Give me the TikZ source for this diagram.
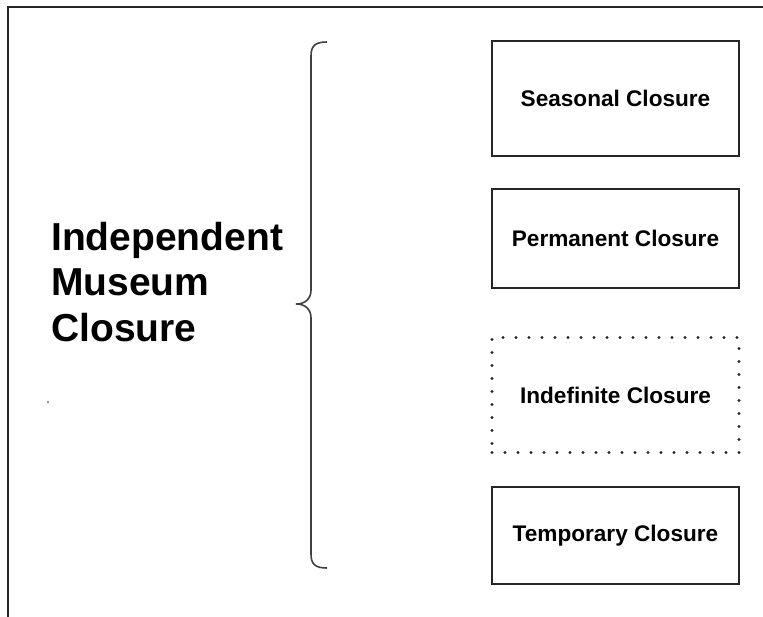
\documentclass[tikz,border=0pt]{standalone}
\usepackage{fontspec}
\setmainfont{Liberation Sans}
\begin{document}
\begin{tikzpicture}[x=1pt,y=-1pt,
  catbox/.style={draw=black!85,line width=1.4pt,minimum width=247pt,inner sep=0pt,font=\bfseries\fontsize{22.6}{26}\selectfont},
  dotbox/.style={catbox,draw=black!85,line width=3.2pt,line cap=round,dash pattern=on 0pt off 13pt},
  title/.style={font=\bfseries\fontsize{39}{45.5}\selectfont,align=left,anchor=north west,inner sep=0pt},
  bracestyle/.style={draw=black!75,line width=1.6pt}]
\useasboundingbox (0,0) rectangle (763,616);
\fill[white] (0,0) rectangle (763,616);
% outer frame (cut off at right and bottom)
\draw[line width=2pt,black!85] (8,620) -- (8,7) -- (770,7);
% title
\node[title] (title) at (51,222) {Independent\\Museum\\Closure};
\fill[black!70] (48,402) circle (1);
\node[circle,inner sep=0pt,minimum size=1pt] (dot) at (48,402) {};
% boxes
\node[catbox,minimum height=115pt] (seasonal) at (615.5,98.5) {Seasonal Closure};
\node[catbox,minimum height=99pt] (permanent) at (615.5,238.5) {Permanent Closure};
\node[dotbox,minimum height=115pt] (indefinite) at (615.5,395) {Indefinite Closure};
\node[catbox,minimum height=97pt] (temporary) at (615.5,535.5) {Temporary Closure};
% brace
\coordinate (btop) at (327,42);
\coordinate (btip) at (296,304);
\coordinate (bbot) at (327,568);
\draw[bracestyle] (btop) .. controls (315,42) and (311,46) .. (311,56)
  -- (311,290) .. controls (311,299) and (305,304) .. (btip)
  .. controls (305,304) and (311,309) .. (311,318)
  -- (311,554) .. controls (311,564) and (315,568) .. (bbot);
\end{tikzpicture}
\end{document}
